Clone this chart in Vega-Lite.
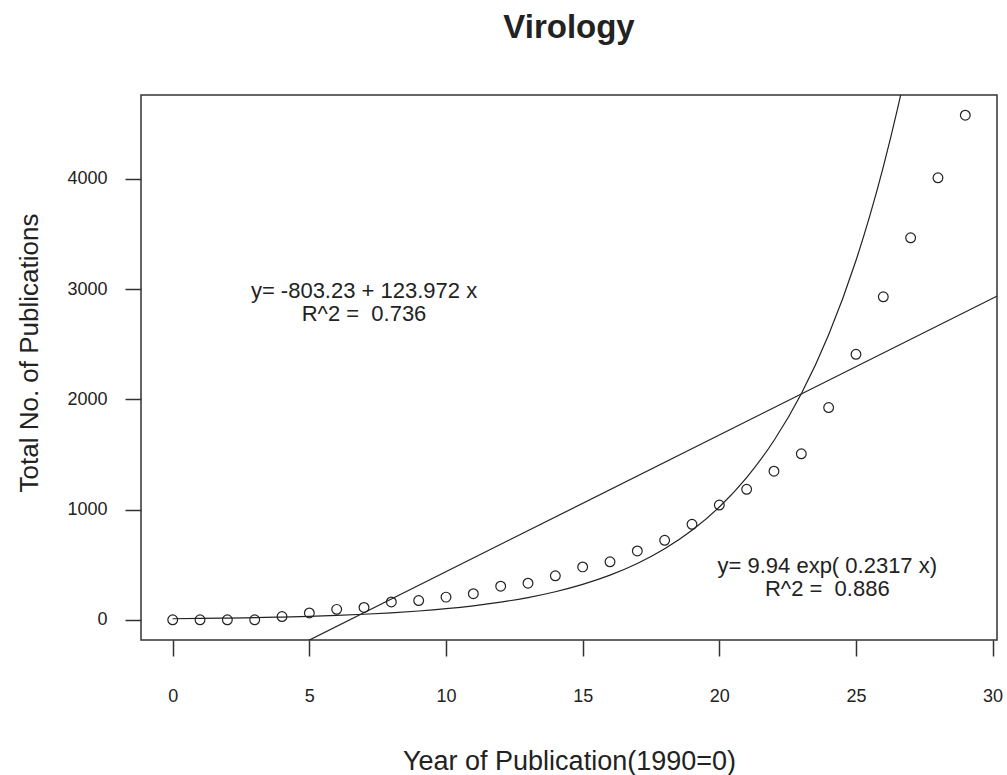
{
  "$schema": "https://vega.github.io/schema/vega-lite/v6.json",
  "width": 856,
  "height": 545,
  "autosize": {"type": "none"},
  "padding": {"left": 141, "top": 95, "right": 10, "bottom": 135},
  "background": "white",
  "title": {"text": "Virology", "anchor": "middle", "frame": "group", "font": "Liberation Sans", "fontSize": 33, "fontWeight": "bold", "color": "#222", "baseline": "alphabetic", "offset": 24},
  "datasets": {
    "pts": [
      {"x": 0, "y": 0}, {"x": 1, "y": 0}, {"x": 2, "y": 0}, {"x": 3, "y": 0},
      {"x": 4, "y": 30}, {"x": 5, "y": 62}, {"x": 6, "y": 95}, {"x": 7, "y": 112},
      {"x": 8, "y": 162}, {"x": 9, "y": 175}, {"x": 10, "y": 206}, {"x": 11, "y": 237},
      {"x": 12, "y": 305}, {"x": 13, "y": 332}, {"x": 14, "y": 399}, {"x": 15, "y": 480},
      {"x": 16, "y": 526}, {"x": 17, "y": 625}, {"x": 18, "y": 721}, {"x": 19, "y": 866},
      {"x": 20, "y": 1041}, {"x": 21, "y": 1184}, {"x": 22, "y": 1348}, {"x": 23, "y": 1506},
      {"x": 24, "y": 1925}, {"x": 25, "y": 2408}, {"x": 26, "y": 2930}, {"x": 27, "y": 3465},
      {"x": 28, "y": 4009}, {"x": 29, "y": 4577}
    ],
    "expfit": [
      {"x": 0, "y": 9.94}, {"x": 1, "y": 12.53}, {"x": 2, "y": 15.8}, {"x": 3, "y": 19.92},
      {"x": 4, "y": 25.11}, {"x": 5, "y": 31.66}, {"x": 6, "y": 39.92}, {"x": 7, "y": 50.32},
      {"x": 8, "y": 63.44}, {"x": 9, "y": 79.98}, {"x": 10, "y": 100.84}, {"x": 11, "y": 127.1},
      {"x": 12, "y": 160.3}, {"x": 13, "y": 202.1}, {"x": 14, "y": 254.8}, {"x": 15, "y": 321.2},
      {"x": 16, "y": 405.0}, {"x": 17, "y": 510.5}, {"x": 18, "y": 643.7}, {"x": 19, "y": 811.5},
      {"x": 20, "y": 1023.1}, {"x": 21, "y": 1289.9}, {"x": 22, "y": 1626.2}, {"x": 23, "y": 2050.2},
      {"x": 24, "y": 2584.9}, {"x": 25, "y": 3258.8}, {"x": 25.5, "y": 3659}, {"x": 26, "y": 4108.5},
      {"x": 26.5, "y": 4613}, {"x": 27, "y": 5179.7}, {"x": 28, "y": 6530.3}, {"x": 29, "y": 8233}
    ],
    "linfit": [
      {"x": 0, "y": -803.23}, {"x": 31, "y": 3039.9}
    ],
    "notes": [
      {"x": 7, "y": 2982, "label": "y= -803.23 + 123.972 x"},
      {"x": 7, "y": 2773, "label": "R^2 = \u00a00.736"},
      {"x": 23.95, "y": 486, "label": "y= 9.94 exp( 0.2317 x)"},
      {"x": 23.95, "y": 276, "label": "R^2 = \u00a00.886"}
    ]
  },
  "encoding": {
    "x": {
      "field": "x", "type": "quantitative",
      "scale": {"domain": [-1.16, 30.16], "nice": false, "zero": false},
      "axis": {
        "values": [0, 5, 10, 15, 20, 25, 30], "format": "d",
        "labelFont": "Liberation Sans", "labelFontSize": 18, "labelColor": "#222",
        "labelBaseline": "alphabetic", "labelPadding": 45, "labelFlush": false,
        "tickSize": 16, "tickColor": "#333", "tickWidth": 1.5,
        "title": "Year of Publication(1990=0)",
        "titleFont": "Liberation Sans", "titleFontSize": 27, "titleFontWeight": "normal", "titleColor": "#222",
        "titleBaseline": "alphabetic", "titleY": 129, "titleX": 428, "titleAlign": "center"
      }
    },
    "y": {
      "field": "y", "type": "quantitative",
      "scale": {"domain": [-183, 4760], "nice": false, "zero": false},
      "axis": {
        "values": [0, 1000, 2000, 3000, 4000], "format": "d",
        "labelAngle": 0, "labelAlign": "right", "labelBaseline": "middle", "labelPadding": 18,
        "labelFont": "Liberation Sans", "labelFontSize": 18, "labelColor": "#222", "labelFlush": false,
        "tickSize": 16, "tickColor": "#333", "tickWidth": 1.5,
        "title": "Total No. of Publications",
        "titleFont": "Liberation Sans", "titleFontSize": 26, "titleFontWeight": "normal", "titleColor": "#222",
        "titleAngle": -90, "titleX": -104, "titleY": 257.5, "titleAlign": "center", "titleBaseline": "alphabetic"
      }
    }
  },
  "layer": [
    {
      "data": {"name": "linfit"},
      "mark": {"type": "line", "clip": true, "color": "#222", "strokeWidth": 1.2}
    },
    {
      "data": {"name": "expfit"},
      "mark": {"type": "line", "clip": true, "color": "#222", "strokeWidth": 1.2, "interpolate": "monotone"}
    },
    {
      "data": {"name": "pts"},
      "mark": {"type": "point", "shape": "circle", "filled": false, "size": 95, "color": "#222", "strokeWidth": 1.2, "opacity": 1}
    },
    {
      "data": {"name": "notes"},
      "mark": {"type": "text", "font": "Liberation Sans", "fontSize": 22, "align": "center", "baseline": "middle", "color": "#222"},
      "encoding": {"text": {"field": "label", "type": "nominal"}}
    }
  ],
  "config": {
    "view": {"stroke": "#333", "strokeWidth": 1.5},
    "axis": {"grid": false, "domain": false}
  }
}
